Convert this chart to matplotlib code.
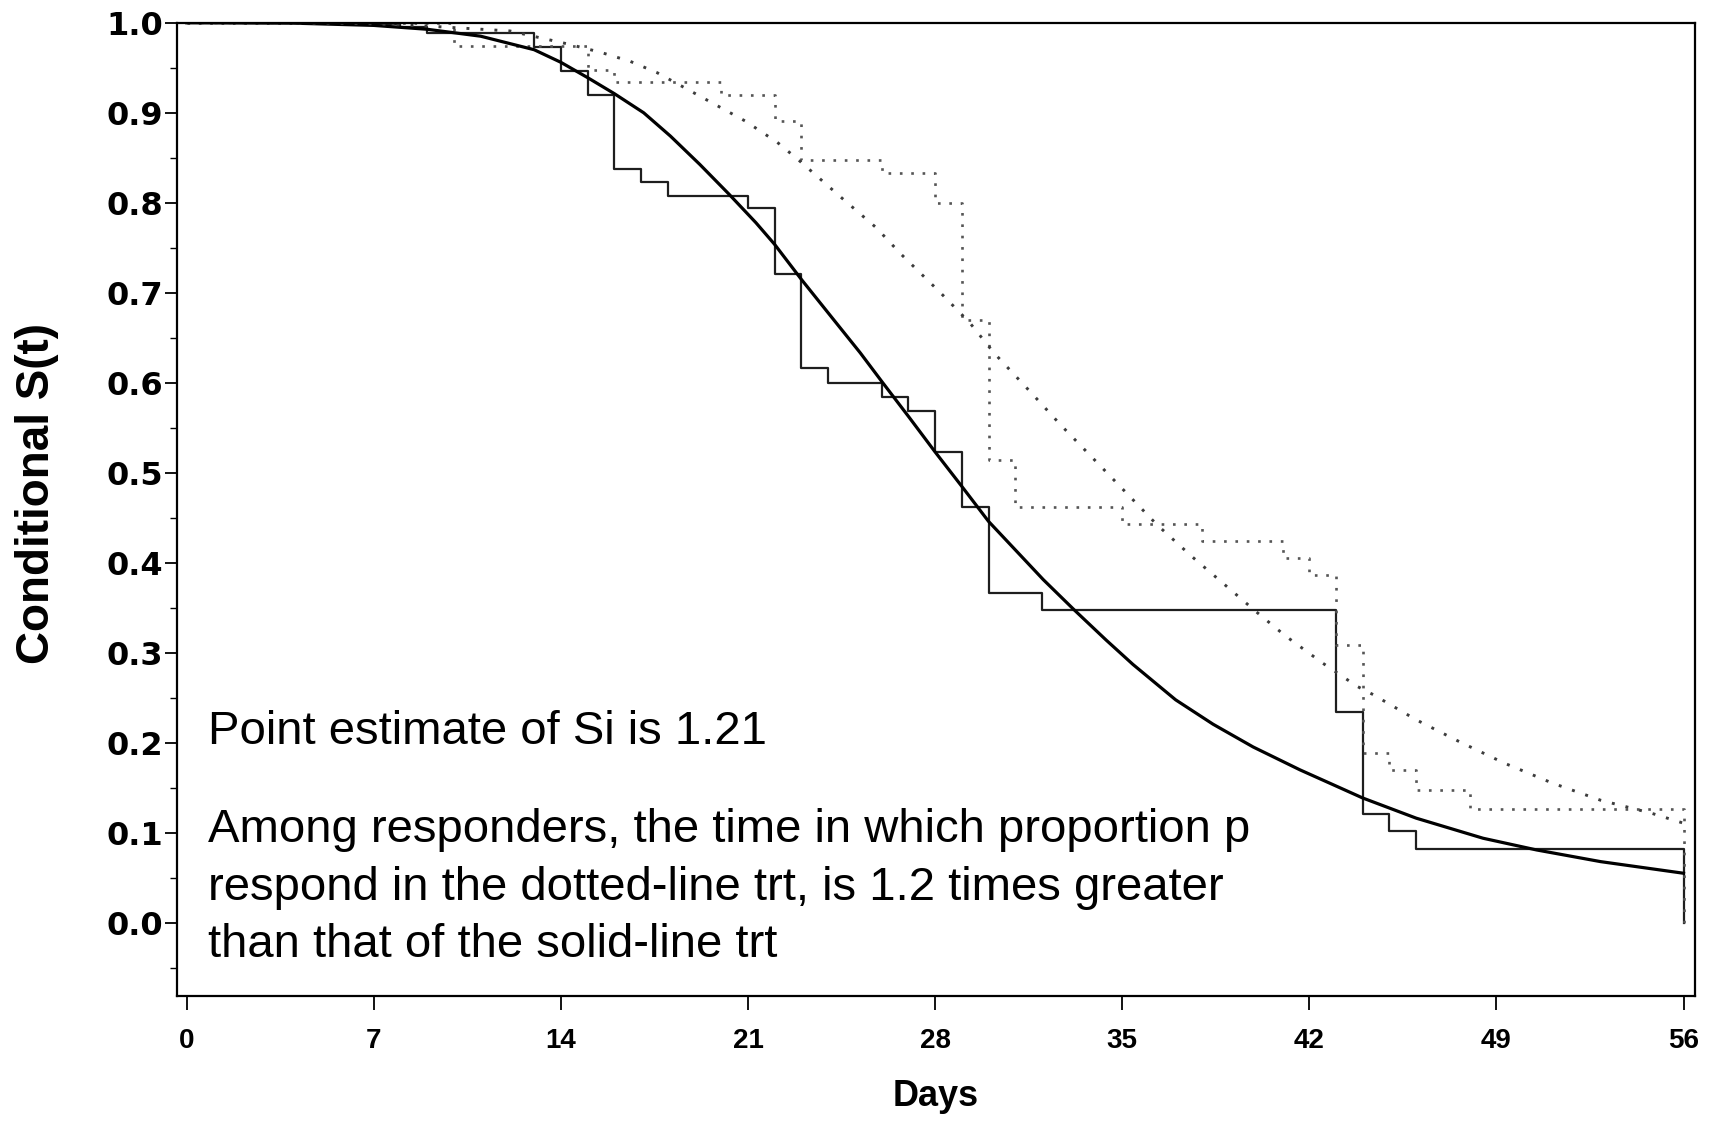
import matplotlib
matplotlib.use("Agg")
import matplotlib.pyplot as plt
from matplotlib import font_manager

# ---- data ----
# Kaplan-Meier steps, solid-line treatment
solid_km_days = [0, 6, 8, 9, 13, 14, 15, 16, 17, 18, 21, 22, 23, 24, 26, 27, 28, 29, 30, 32, 43, 44, 45, 46, 56]
solid_km_surv = [1.0, 0.998, 0.995, 0.988, 0.9734, 0.9463, 0.9193, 0.8378, 0.8229, 0.8075, 0.7944, 0.721,
                 0.616, 0.5994, 0.5842, 0.569, 0.5231, 0.4619, 0.3663, 0.3477, 0.2346, 0.1205, 0.102, 0.082, 0.0]

# Kaplan-Meier steps, dotted-line treatment
dotted_km_days = [0, 10, 15, 16, 20, 22, 23, 26, 28, 29, 30, 31, 35, 38, 41, 42, 43, 44, 45, 46, 48, 56]
dotted_km_surv = [1.0, 0.974, 0.947, 0.934, 0.9196, 0.891, 0.8473, 0.8326, 0.8, 0.6702, 0.5145, 0.4619,
                  0.4433, 0.4237, 0.4052, 0.3866, 0.3088, 0.1884, 0.1698, 0.1476, 0.1261, 0.0]

# fitted curves
solid_fit_days = [0, 4, 7, 9, 11, 13, 14, 15, 16, 17.1, 18.1, 19.2, 20.3, 21.3, 22, 23, 24.2, 25.2, 26, 27,
                  28, 29, 30, 32.05, 33.2, 34.4, 35.4, 37, 38.4, 39.9, 41.65, 42.8, 44, 46, 48.5, 50.5, 52.9, 56]
solid_fit_surv = [1.0, 0.9995, 0.997, 0.9927, 0.985, 0.970, 0.956, 0.939, 0.9212, 0.8999, 0.874, 0.8425,
                  0.8092, 0.7777, 0.7536, 0.7147, 0.6702, 0.6332, 0.6016, 0.5627, 0.5231, 0.4848, 0.4459,
                  0.3811, 0.3477, 0.314, 0.287, 0.2476, 0.2205, 0.1952, 0.1698, 0.1545, 0.1385, 0.1161,
                  0.0938, 0.0808, 0.0678, 0.0549]

dotted_fit_days = [0, 4, 7, 9, 12.1, 13.2, 14.3, 15.5, 16.6, 17.6, 20.9, 22.1, 22.9, 24.5, 25.8, 26.7, 28.2,
                   29.3, 30.2, 31.6, 32.7, 34.2, 35.4, 36.3, 37.6, 38.7, 40, 41.1, 42.5, 43.8, 44.4, 46, 47.6,
                   49.3, 51.1, 52.9, 54.8, 56]
dotted_fit_surv = [1.0, 0.9998, 0.9988, 0.9963, 0.9908, 0.9834, 0.9761, 0.967, 0.957, 0.9445, 0.8907, 0.867,
                   0.8473, 0.8055, 0.7722, 0.7436, 0.7, 0.6665, 0.6332, 0.5887, 0.553, 0.507, 0.47, 0.4422,
                   0.407, 0.379, 0.3458, 0.3188, 0.2884, 0.2624, 0.2532, 0.2254, 0.2013, 0.1772, 0.155, 0.136,
                   0.1216, 0.1105]

x_ticks = [0, 7, 14, 21, 28, 35, 42, 49, 56]
y_ticks = [0.0, 0.1, 0.2, 0.3, 0.4, 0.5, 0.6, 0.7, 0.8, 0.9, 1.0]

note_1 = "Point estimate of Si is 1.21"
note_2 = ["Among responders, the time in which proportion p",
          "respond in the dotted-line trt, is 1.2 times greater",
          "than that of the solid-line trt"]

# ---- fonts ----
names = {f.name for f in font_manager.fontManager.ttflist}
narrow = "Liberation Sans Narrow" if "Liberation Sans Narrow" in names else "Liberation Sans"

W, H = 1714, 1121
fig = plt.figure(figsize=(W / 100, H / 100), dpi=100)
ax = fig.add_axes([176.7 / W, 1 - 996 / H, (1695.3 - 176.7) / W, (996 - 22.7) / H])

# step curves
ax.step(solid_km_days, solid_km_surv, where="post", color="#1e1e1e", lw=1.6)
ax.step(dotted_km_days, dotted_km_surv, where="post", color="#555555", lw=1.9,
        linestyle=(0, (1, 3.3)))
# fitted curves
ax.plot(solid_fit_days, solid_fit_surv, color="black", lw=2.3)
ax.plot(dotted_fit_days, dotted_fit_surv, color="#3c3c3c", lw=2.1, linestyle=(0, (1, 3.8)))

ax.set_xlim(-0.37, 56.44)
ax.set_ylim(-0.0815, 1.0)

ax.set_xticks(x_ticks)
ax.set_xticklabels([str(v) for v in x_ticks], family=narrow, fontweight="bold", fontsize=20)
ax.set_yticks(y_ticks)
ax.set_yticklabels([f"{v:.1f}" for v in y_ticks], family="DejaVu Sans", fontweight="bold", fontsize=23)
ax.set_yticks([v + 0.05 for v in y_ticks[:-1]] + [-0.05], minor=True)
ax.tick_params(axis="x", direction="out", length=10, width=1.3, pad=13)
ax.tick_params(axis="y", which="major", direction="out", length=9, width=1.3, pad=1)
ax.tick_params(axis="y", which="minor", direction="out", length=5, width=1.0)

for s in ax.spines.values():
    s.set_linewidth(1.6)
    s.set_color("black")

# annotations
ax.text(0.79, 0.1987, note_1, family="Liberation Sans", fontsize=34, va="baseline", ha="left")
for line, yb in zip(note_2, [0.0897, 0.0253, -0.0381]):
    ax.text(0.79, yb, line, family="Liberation Sans", fontsize=34, va="baseline", ha="left")

fig.text(37 / W, 1 - 494 / H, "Conditional S(t)", rotation=90, ha="center", va="center",
         family=narrow, fontweight="bold", fontsize=33)
fig.text(936 / W, 1 - 1096 / H, "Days", ha="center", va="center",
         family=narrow, fontweight="bold", fontsize=26)

fig.savefig("out.png", dpi=100, facecolor="white")
